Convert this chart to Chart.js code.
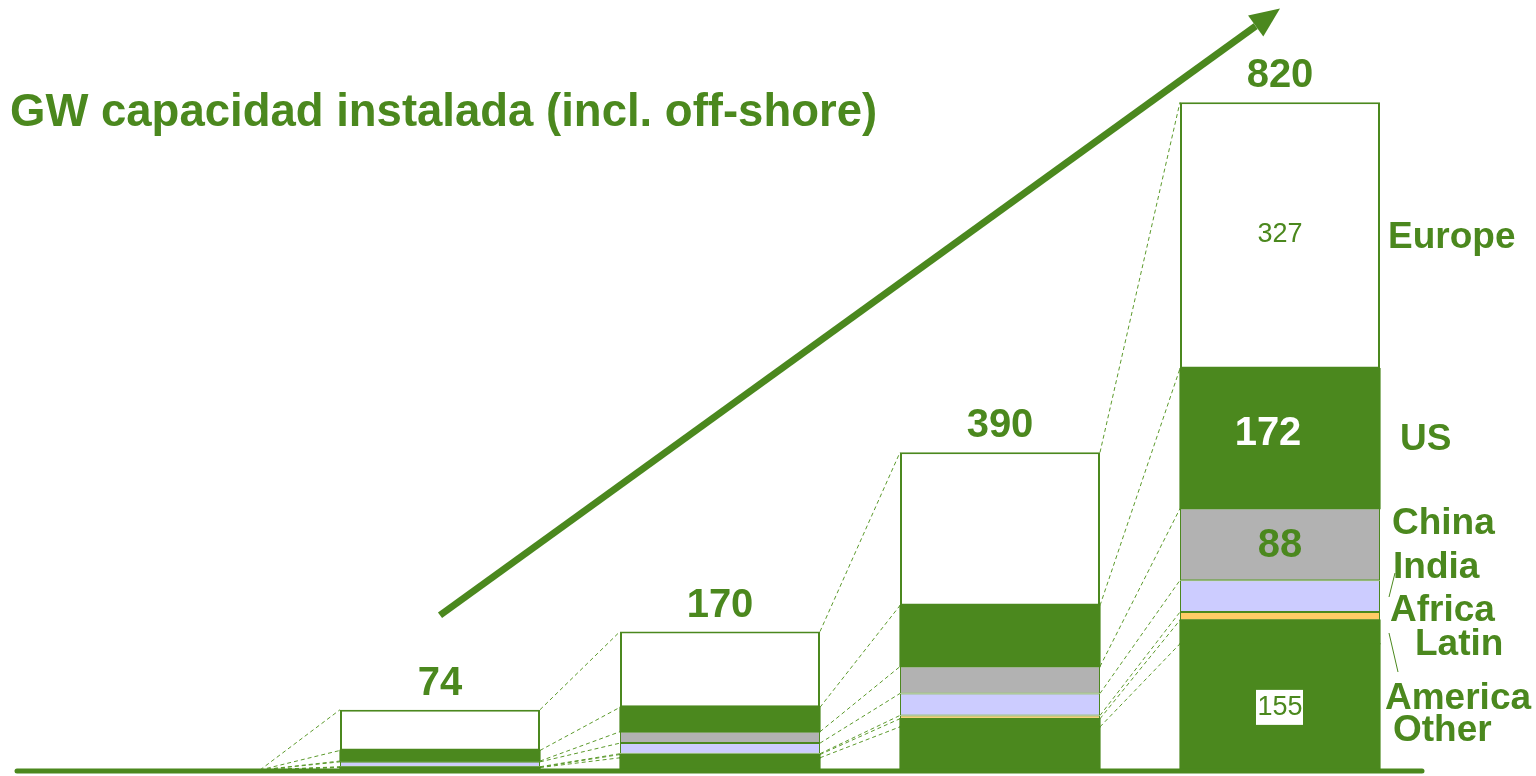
<!DOCTYPE html>
<html lang="es">
<head>
<meta charset="utf-8">
<title>GW capacidad instalada</title>
<script src="https://cdn.jsdelivr.net/npm/chart.js"></script>
<style>
	html, body { margin: 0; padding: 0; background: #fff; }
	.canvas_div { width: 1536px; height: 776px; position: relative; }
</style>
</head>
<body>
<div class="canvas_div">
	<canvas id="myChart"></canvas>
</div>
<script>
// bar slots: first one is empty so the dashed lines fan out from the ground
const categories = ['', '', '', '', ''];

// GW per region, stacked bottom -> top
const other        = [0,  3,  15,  53, 155];
const latinAmerica = [0, 0.5,  4,  10,  29];
const africa       = [0, 0.5,  1,   4,  10];
const india        = [0,  6,  13,  27,  39];
const china        = [0,  1,  14,  33,  88];
const us           = [0, 13,  30,  75, 172];
const europe       = [0, 50,  93, 188, 327];

const regionNames = ['Other', 'Latin America', 'Africa', 'India', 'China', 'US', 'Europe'];

const GREEN = '#4b881e';
const FONT = "'Liberation Sans', Arial, sans-serif";

function ds(label, data, color, bw){
	return {
		label: label,
		data: data,
		backgroundColor: color,
		borderColor: GREEN,
		borderWidth: bw,
		borderSkipped: false,
		inflateAmount: bw ? 0 : 0.6,
		barPercentage: 200 / 280,
		categoryPercentage: 1
	};
}

const chart_data = {
	labels: categories,
	datasets: [
		ds(regionNames[0], other, GREEN, 0),
		ds(regionNames[1], latinAmerica, GREEN, 0),
		ds(regionNames[2], africa, '#ffcc66', 1),
		ds(regionNames[3], india, '#ccccff', 1),
		ds(regionNames[4], china, '#b2b2b2', 1),
		ds(regionNames[5], us, GREEN, 0),
		ds(regionNames[6], europe, '#ffffff', 2)
	]
};

function total(i){
	let s = 0;
	chart_data.datasets.forEach(d => s += d.data[i]);
	return Math.round(s);
}

// connectors, arrow, ground line and all the text
const decor = {
	id: 'decor',
	beforeDatasetsDraw(chart){
		const ctx = chart.ctx;
		const n = categories.length;
		ctx.save();
		ctx.strokeStyle = '#5c9a2c';
		ctx.lineWidth = 1;
		ctx.setLineDash([4, 3]);
		for(let d = 0; d < chart.data.datasets.length; d++){
			const els = chart.getDatasetMeta(d).data;
			for(let i = 0; i < n - 1; i++){
				const a = els[i], b = els[i + 1];
				ctx.beginPath();
				ctx.moveTo(a.x + a.width / 2, a.y);
				ctx.lineTo(b.x - b.width / 2, b.y);
				ctx.stroke();
			}
		}
		ctx.restore();
	},
	afterDatasetsDraw(chart){
		const ctx = chart.ctx;
		const y = chart.scales.y;
		const area = chart.chartArea;
		const last = categories.length - 1;
		const base = y.getPixelForValue(0);
		const metaOf = name => chart.getDatasetMeta(regionNames.indexOf(name)).data;

		ctx.save();
		// ground
		ctx.strokeStyle = GREEN;
		ctx.lineWidth = 5;
		ctx.lineCap = 'round';
		ctx.beginPath();
		ctx.moveTo(17, base + 1);
		ctx.lineTo(area.right + 2, base + 1);
		ctx.stroke();

		// growth arrow
		const top = metaOf('Europe');
		const x0 = top[1].x, y0 = y.getPixelForValue(190);
		const x1 = top[last].x, y1 = y.getPixelForValue(935);
		const len = Math.hypot(x1 - x0, y1 - y0);
		const ux = (x1 - x0) / len, uy = (y1 - y0) / len;
		const hl = 30, hw = 13;
		const bx = x1 - ux * hl, by = y1 - uy * hl;
		ctx.lineCap = 'butt';
		ctx.lineWidth = 7;
		ctx.beginPath();
		ctx.moveTo(x0, y0);
		ctx.lineTo(bx, by);
		ctx.stroke();
		ctx.fillStyle = GREEN;
		ctx.beginPath();
		ctx.moveTo(x1, y1);
		ctx.lineTo(bx - uy * hw, by + ux * hw);
		ctx.lineTo(bx + uy * hw, by - ux * hw);
		ctx.closePath();
		ctx.fill();

		// totals above bars
		ctx.textAlign = 'center';
		ctx.textBaseline = 'alphabetic';
		ctx.font = 'bold 40px ' + FONT;
		for(let i = 1; i <= last; i++){
			ctx.fillText(String(total(i)), top[i].x, top[i].y - 15);
		}

		// values inside the last bar
		ctx.textBaseline = 'middle';
		const mid = el => (el.y + el.base) / 2;
		let el = metaOf('Europe')[last];
		ctx.font = '27px ' + FONT;
		ctx.fillText(String(europe[last]), el.x, mid(el) - 1);
		el = metaOf('US')[last];
		ctx.fillStyle = '#ffffff';
		ctx.font = 'bold 40px ' + FONT;
		ctx.fillText(String(us[last]), el.x - 12, mid(el) - 5);
		el = metaOf('China')[last];
		ctx.fillStyle = GREEN;
		ctx.fillText(String(china[last]), el.x, mid(el) + 2);
		el = metaOf('Other')[last];
		ctx.fillStyle = '#ffffff';
		ctx.fillRect(el.x - 24, mid(el) - 17, 47, 35);
		ctx.fillStyle = GREEN;
		ctx.font = '27px ' + FONT;
		ctx.fillText(String(other[last]), el.x, mid(el) + 1);

		// region names on the right
		const right = el.x + el.width / 2;
		ctx.textAlign = 'left';
		ctx.font = 'bold 37px ' + FONT;
		const names = [
			['Europe', 8, -532], ['US', 20, -330], ['China', 12, -246],
			['India', 13, -202], ['Africa', 10, -159], ['Latin', 35, -125],
			['America', 5, -71], ['Other', 13, -39]
		];
		names.forEach(t => ctx.fillText(t[0], right + t[1], base + t[2]));

		ctx.lineWidth = 1;
		ctx.beginPath();
		ctx.moveTo(right + 9, base - 173);
		ctx.lineTo(right + 15, base - 197);
		ctx.moveTo(right + 9, base - 137);
		ctx.lineTo(right + 18, base - 98);
		ctx.stroke();

		// heading
		ctx.textBaseline = 'alphabetic';
		ctx.font = 'bold 45.5px ' + FONT;
		ctx.fillText('GW capacidad instalada (incl. off-shore)', 10, 126);
		ctx.restore();
	}
};

const config = {
	type: 'bar',
	data: chart_data,
	options: {
		responsive: true,
		maintainAspectRatio: false,
		animation: false,
		layout: { padding: { left: 20, right: 116, top: 37, bottom: 6 } },
		plugins: {
			legend: { display: false },
			tooltip: { enabled: false }
		},
		scales: {
			x: { stacked: true, display: false },
			y: { stacked: true, display: false, min: 0, max: 900 }
		}
	},
	plugins: [decor]
};

var myChart = new Chart(document.getElementById('myChart'), config);
</script>
</body>
</html>
